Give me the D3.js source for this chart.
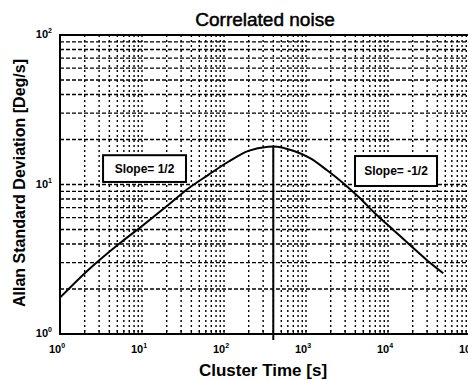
<!DOCTYPE html>
<html>
<head>
<meta charset="utf-8">
<script src="https://cdn.jsdelivr.net/npm/d3@7"></script>
<style>
  body { margin: 0; background: #fff; }
  text { font-family: "Liberation Sans", Arial, sans-serif; fill: #000; }
</style>
</head>
<body>
<div id="vis"></div>
<script>
// Allan deviation of correlated (Gauss-Markov) noise
var tau = [1, 2.21, 5.65, 10.4, 20.9, 36.7, 64.4, 113, 198, 347, 399, 700, 1120, 1790, 2850, 4560, 7280, 11600, 18500, 29600, 47200];
var sigma = [1.75, 2.68, 4.14, 5.36, 7.3, 9.4, 11.6, 14.2, 16.8, 17.9, 17.95, 16.8, 15.0, 12.5, 10.2, 8.09, 6.25, 4.97, 3.94, 3.13, 2.55];
var xTicks = [1, 10, 100, 1000, 10000, 100000];
var yTicks = [1, 10, 100];
var peakTau = 399;
var peakSigma = 17.95;
var notes = ['Slope= 1/2', 'Slope= -1/2'];

var W = 468, H = 380;
var m = {left: 60, top: 35, right: 470, bottom: 334};

svg = d3.select('#vis').append('svg')
  .attr('width', W)
  .attr('height', H);

svg.append('rect').attr('width', W).attr('height', H).attr('fill', '#fff');

var x = d3.scaleLog().domain([1, 1e5]).range([m.left, m.right]);
var y = d3.scaleLog().domain([1, 100]).range([m.bottom, m.top]);

// minor + major grid positions
var xGrid = [], yGrid = [];
for (var k = 0; k < 5; k++) for (var j = 2; j <= 10; j++) xGrid.push(j * Math.pow(10, k));
for (var k = 0; k < 2; k++) for (var j = 2; j <= 10; j++) yGrid.push(j * Math.pow(10, k));

var grid = svg.append('g').attr('stroke', '#000').attr('stroke-width', 1.4);

grid.selectAll('line.v').data(xGrid).enter().append('line')
  .attr('class', 'v')
  .attr('x1', d => x(d)).attr('x2', d => x(d))
  .attr('y1', m.top).attr('y2', m.bottom)
  .attr('stroke-dasharray', '2,3');

grid.selectAll('line.h').data(yGrid).enter().append('line')
  .attr('class', 'h')
  .attr('x1', m.left).attr('x2', m.right)
  .attr('y1', d => y(d)).attr('y2', d => y(d))
  .attr('stroke-dasharray', '4,2');

// frame
svg.append('path')
  .attr('d', 'M' + m.right + ',' + m.top + 'H' + m.left + 'V' + m.bottom + 'H' + m.right)
  .attr('fill', 'none').attr('stroke', '#000').attr('stroke-width', 2);

// small tick marks on bottom axis
svg.append('g').selectAll('line').data(xGrid).enter().append('line')
  .attr('x1', d => x(d)).attr('x2', d => x(d))
  .attr('y1', m.bottom).attr('y2', m.bottom - 4)
  .attr('stroke', '#000').attr('stroke-width', 1.2);

// curve
var line = d3.line()
  .x((d, i) => x(tau[i]))
  .y(d => y(d))
  .curve(d3.curveMonotoneX);

svg.append('path')
  .datum(sigma)
  .attr('d', line)
  .attr('fill', 'none')
  .attr('stroke', '#000')
  .attr('stroke-width', 2);

// vertical marker at the peak
svg.append('line')
  .attr('x1', x(peakTau)).attr('x2', x(peakTau))
  .attr('y1', y(peakSigma)).attr('y2', m.bottom + 6)
  .attr('stroke', '#000').attr('stroke-width', 2);

// slope boxes (corners in data units)
var boxes = [
  {t: notes[0], x0: 3.35, x1: 34.4, y0: 15.7, y1: 10.4},
  {t: notes[1], x0: 3960, x1: 39600, y0: 15.5, y1: 9.77}
];
var bg = svg.selectAll('g.box').data(boxes).enter().append('g').attr('class', 'box');
bg.append('rect')
  .attr('x', d => x(d.x0)).attr('y', d => y(d.y0))
  .attr('width', d => x(d.x1) - x(d.x0)).attr('height', d => y(d.y1) - y(d.y0))
  .attr('fill', '#fff').attr('stroke', '#000').attr('stroke-width', 2);
bg.append('text')
  .attr('x', d => (x(d.x0) + x(d.x1)) / 2)
  .attr('y', d => (y(d.y0) + y(d.y1)) / 2 + 4)
  .attr('text-anchor', 'middle')
  .attr('font-size', 12).attr('font-weight', 'bold')
  .text(d => d.t);

// tick labels
function powLabel(sel, d) {
  var e = Math.round(Math.log10(d));
  sel.append('tspan').text('10');
  sel.append('tspan').attr('font-size', 7).attr('dy', -5).text(e);
}

svg.append('g').selectAll('text').data(xTicks).enter().append('text')
  .attr('x', d => x(d) - 3).attr('y', 353)
  .attr('text-anchor', 'middle')
  .attr('font-size', 11).attr('font-weight', 'bold')
  .each(function(d) { powLabel(d3.select(this), d); });

svg.append('g').selectAll('text').data(yTicks).enter().append('text')
  .attr('x', 52).attr('y', d => y(d) + 3)
  .attr('text-anchor', 'end')
  .attr('font-size', 11).attr('font-weight', 'bold')
  .each(function(d) { powLabel(d3.select(this), d); });

// titles
svg.append('text')
  .attr('x', 265).attr('y', 26)
  .attr('text-anchor', 'middle')
  .attr('font-size', 19)
  .attr('stroke', '#000').attr('stroke-width', 0.5)
  .text('Correlated noise');

svg.append('text')
  .attr('x', 263).attr('y', 376)
  .attr('text-anchor', 'middle')
  .attr('font-size', 17).attr('font-weight', 'bold')
  .text('Cluster Time [s]');

svg.append('text')
  .attr('transform', 'translate(25,183) rotate(-90)')
  .attr('text-anchor', 'middle')
  .attr('font-size', 16).attr('font-weight', 'bold')
  .text('Allan Standard Deviation [Deg/s]');
</script>
</body>
</html>
